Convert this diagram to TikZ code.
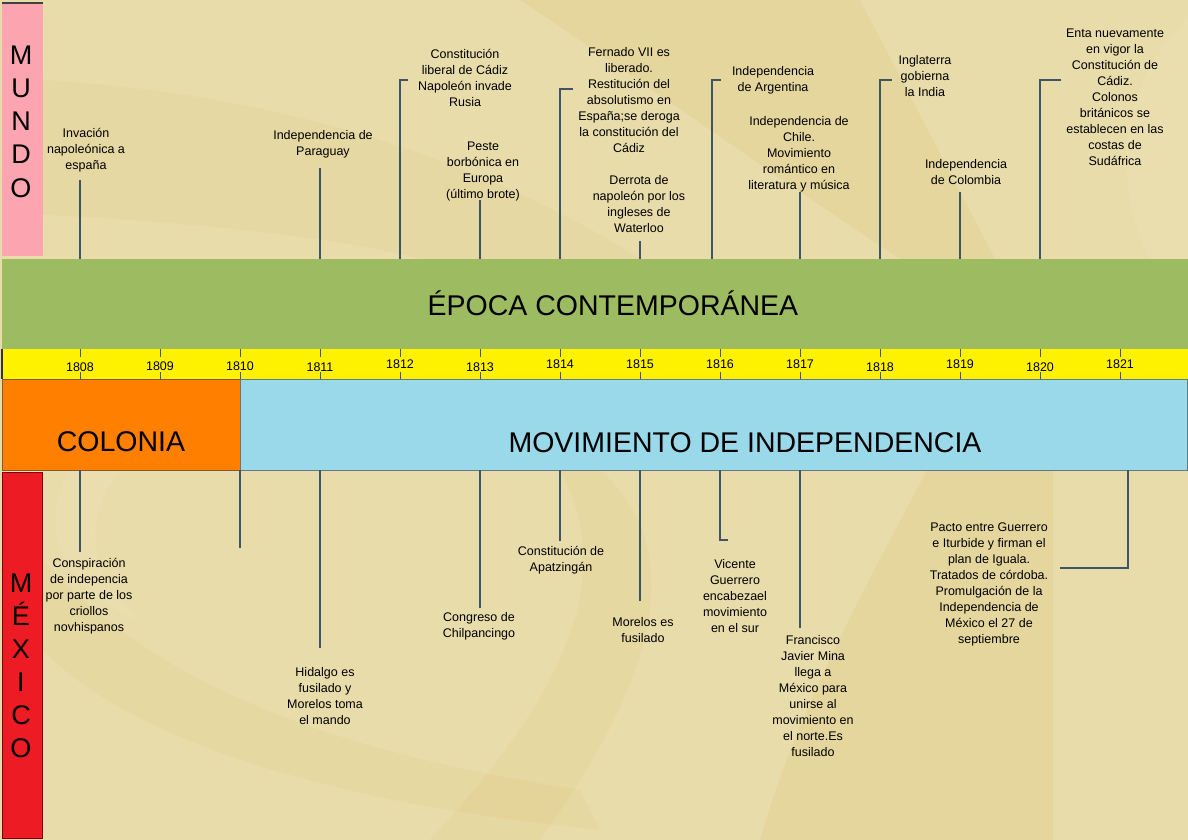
\documentclass[tikz,border=0pt]{standalone}
\usepackage{fontspec}
\setmainfont{Liberation Sans}

\definecolor{bgtan}{RGB}{232,220,170}
\definecolor{swirl}{RGB}{222,196,118}
\definecolor{swirllight}{RGB}{238,228,186}
\definecolor{mundopink}{RGB}{252,164,176}
\definecolor{epocagreen}{RGB}{157,187,97}
\definecolor{yearyellow}{RGB}{255,242,0}
\definecolor{coloniaorange}{RGB}{255,128,0}
\definecolor{indepblue}{RGB}{153,217,234}
\definecolor{mexicored}{RGB}{237,28,36}
\definecolor{linkgray}{RGB}{64,84,100}

\tikzset{
  evt/.style={align=center, font=\fontsize{12.5}{16}\selectfont, inner sep=0pt},
  conn/.style={draw=linkgray, line width=1.1pt},
  band/.style={anchor=north west, inner sep=0pt, outer sep=0pt},
  bigtext/.style={font=\fontsize{28.5}{30}\selectfont, anchor=base},
  sideletter/.style={font=\fontsize{27}{27}\selectfont, anchor=base},
  yearlbl/.style={font=\fontsize{12.5}{14}\selectfont, anchor=base},
  tick/.style={draw=linkgray, line width=0.9pt}
}

\begin{document}
\begin{tikzpicture}[x=1pt, y=-1pt]
\useasboundingbox (0,0) rectangle (1188,840);

% Background and swirls
\fill[bgtan] (0,0) rectangle (1188,840);
\fill[swirl, opacity=.15] (43,80) .. controls (300,95) and (500,170) .. (640,259) -- (43,259) -- cycle;
\fill[swirllight, opacity=.4] (43,215) .. controls (200,222) and (350,240) .. (420,259) -- (43,259) -- cycle;
\fill[swirl, opacity=.22] (520,0) -- (860,0) -- (995,259) -- (900,259) .. controls (780,180) and (640,80) .. cycle;
\fill[swirllight, opacity=.35] (1188,20) .. controls (1120,80) and (1110,180) .. (1150,259) -- (1188,259) -- cycle;
\fill[swirl, opacity=.16] (43,560) .. controls (150,680) and (320,750) .. (580,790) -- (600,830) .. controls (300,800) and (120,730) .. (43,650) -- cycle;
\fill[swirllight, opacity=.35] (70,470) .. controls (30,540) and (80,600) .. (140,620) .. controls (90,580) and (80,520) .. (120,470) -- cycle;
\fill[swirl, opacity=.16] (600,470) .. controls (700,560) and (640,700) .. (540,840) -- (430,840) .. controls (560,700) and (620,580) .. (560,470) -- cycle;
\fill[swirl, opacity=.22] (927,470) -- (1053,470) -- (1053,840) -- (760,840) .. controls (800,700) and (880,560) .. cycle;

% Side labels
\node[band, fill=mundopink, minimum width=41, minimum height=253] (mundo) at (2,3) {};
\draw[line width=1.2pt, black!75] (mundo.north west) -- (mundo.north east);
\foreach \l [count=\i] in {M,U,N,D,O}
  \node at (21,32+33*\i) [sideletter] {\l};
\node[band, fill=mexicored, draw=red!50!black, line width=0.6pt, minimum width=40, minimum height=366] (mexico) at (2,472) {};
\foreach \l [count=\i] in {M,É,X,I,C,O}
  \node at (21,559+33*\i) [sideletter] {\l};

% Bands
\node[band, fill=epocagreen, minimum width=1186, minimum height=90] (epoca) at (2,259) {};
\node at (613,315) [bigtext] (epocatxt) {ÉPOCA CONTEMPORÁNEA};
\node[band, fill=yearyellow, minimum width=1186, minimum height=30] (years) at (2,349) {};
\draw[line width=0.8pt, olive!70!black] (years.south west) -- (years.south east);
\draw[line width=1.6pt, black!80] (years.north west) -- (years.south west);
\node[band, fill=coloniaorange, draw=brown!70!black, line width=0.6pt, minimum width=238, minimum height=91] (colonia) at (2,379) {};
\node[band, fill=indepblue, draw=linkgray!80, line width=0.6pt, minimum width=947, minimum height=91] (indep) at (240,379) {};
\node at (121,451) [bigtext] (coloniatxt) {COLONIA};
\node at (745,452) [bigtext] (indeptxt) {MOVIMIENTO DE INDEPENDENCIA};

% Years and ticks
\foreach \yr/\base in {1808/371,1809/370,1810/370,1811/371,1812/368,1813/371,1814/368,
                       1815/368,1816/368,1817/368,1818/371,1819/368,1820/371,1821/368} {
  \pgfmathsetmacro{\tx}{80*(\yr-1807)}
  \draw[tick] (\tx,349) -- ++(0,8);
  \draw[tick] (\tx,379) -- ++(0,-7);
  \node at (\tx,\base) [yearlbl] (y\yr) {\yr};
}

% World events
\node at (86,150) [evt] (w1) {Invación\\napoleónica a\\españa};
\coordinate (c1) at (80,180);
\draw[conn] (c1) -- (c1 |- epoca.north);

\node at (323,144) [evt] (w2) {Independencia de\\Paraguay};
\coordinate (c2) at (320,168);
\draw[conn] (c2) -- (c2 |- epoca.north);

\node at (465,78) [evt] (w3) {Constitución\\liberal de Cádiz\\Napoleón invade\\Rusia};
\coordinate (c3) at (408,80);
\draw[conn] (c3) -| ([xshift=-8pt]c3 |- epoca.north);

\node at (483,171) [evt] (w4) {Peste\\borbónica en\\Europa\\(último brote)};
\coordinate (c4) at (480,200);
\draw[conn] (c4) -- (c4 |- epoca.north);

\node at (629,100) [evt] (w5) {Fernado VII es\\liberado.\\Restitución del\\absolutismo en\\España;se deroga\\la constitución del\\Cádiz};
\coordinate (c5) at (573,89);
\draw[conn] (c5) -| ([xshift=-13pt]c5 |- epoca.north);

\node at (639,204) [evt] (w6) {Derrota de\\napoleón por los\\ingleses de\\Waterloo};
\coordinate (c6) at (640,241);
\draw[conn] (c6) -- (c6 |- epoca.north);

\node at (773,80) [evt] (w7) {Independencia\\de Argentina};
\coordinate (c7) at (721,80);
\draw[conn] (c7) -| ([xshift=-9pt]c7 |- epoca.north);

\node at (799,154) [evt] (w8) {Independencia de\\Chile.\\Movimiento\\romántico en\\literatura y música};
\coordinate (c8) at (800,192);
\draw[conn] (c8) -- (c8 |- epoca.north);

\node at (925,76) [evt] (w9) {Inglaterra\\gobierna\\la India};
\coordinate (c9) at (892,80);
\draw[conn] (c9) -| ([xshift=-12pt]c9 |- epoca.north);

\node at (966,172) [evt] (w10) {Independencia\\de Colombia};
\coordinate (c10) at (960,192);
\draw[conn] (c10) -- (c10 |- epoca.north);

\node at (1115,97) [evt] (w11) {Enta nuevamente\\en vigor la\\Constitución de\\Cádiz.\\Colonos\\británicos se\\establecen en las\\costas de\\Sudáfrica};
\coordinate (c11) at (1061,80);
\draw[conn] (c11) -| ([xshift=-21pt]c11 |- epoca.north);

% Mexico events
\node at (89,596) [evt] (m1) {Conspiración\\de indepencia\\por parte de los\\criollos\\novhispanos};
\coordinate (d1) at (80,552);
\draw[conn] (d1) -- (d1 |- colonia.south);

\coordinate (d2) at (240,548);
\draw[conn] (d2) -- (d2 |- colonia.south);

\node at (325,696) [evt] (m3) {Hidalgo es\\fusilado y\\Morelos toma\\el mando};
\coordinate (d3) at (320,648);
\draw[conn] (d3) -- (d3 |- indep.south);

\node at (479,626) [evt] (m4) {Congreso de\\Chilpancingo};
\coordinate (d4) at (480,608);
\draw[conn] (d4) -- (d4 |- indep.south);

\node at (561,560) [evt] (m5) {Constitución de\\Apatzingán};
\coordinate (d5) at (560,541);
\draw[conn] (d5) -- (d5 |- indep.south);

\node at (643,630) [evt] (m6) {Morelos es\\fusilado};
\coordinate (d6) at (640,601);
\draw[conn] (d6) -- (d6 |- indep.south);

\node at (735,596) [evt] (m7) {Vicente\\Guerrero\\encabezael\\movimiento\\en el sur};
\coordinate (d7) at (728,540);
\draw[conn] (d7) -| ([xshift=-8pt]d7 |- indep.south);

\node at (813,696) [evt] (m8) {Francisco\\Javier Mina\\llega a\\México para\\unirse al\\movimiento en\\el norte.Es\\fusilado};
\coordinate (d8) at (800,628);
\draw[conn] (d8) -- (d8 |- indep.south);

\node at (989,584) [evt] (m9) {Pacto entre Guerrero\\e Iturbide y firman el\\plan de Iguala.\\Tratados de córdoba.\\Promulgación de la\\Independencia de\\México el 27 de\\septiembre};
\coordinate (d9) at (1060,568);
\draw[conn] (d9) -| ([xshift=68pt]d9 |- indep.south);
\end{tikzpicture}
\end{document}
